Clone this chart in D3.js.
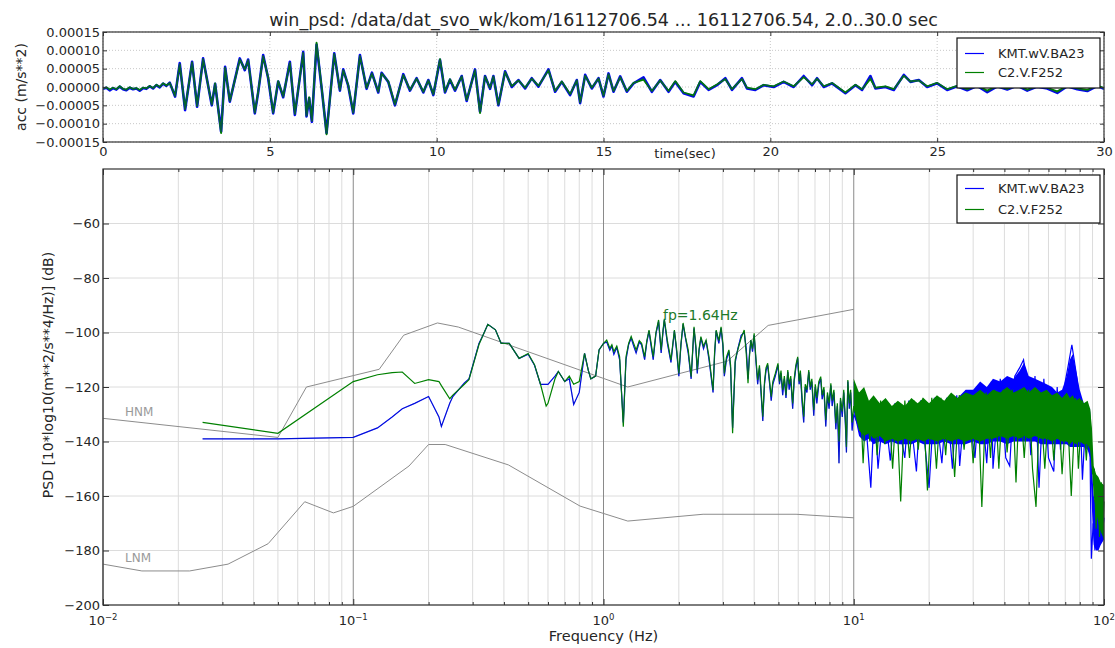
<!DOCTYPE html>
<html>
<head>
<meta charset="utf-8">
<script src="https://cdn.jsdelivr.net/npm/d3@7"></script>
<style>
  body { margin: 0; background: #fff; }
  svg { font-family: "DejaVu Sans", sans-serif; }
</style>
</head>
<body>
<svg id="chart" width="1115" height="648"></svg>
<script>
// ---------- data: acceleration waveform (units of 1e-5 m/s**2) ----------
const waveTime = [0, 0.1, 0.2, 0.3, 0.4, 0.5, 0.6, 0.7, 0.8, 0.9, 1.0, 1.1, 1.2, 1.3, 1.4, 1.5, 1.6, 1.7, 1.8, 1.9, 2.0,
  2.16, 2.3, 2.46, 2.67, 2.82, 3.0, 3.26, 3.36, 3.54, 3.66, 3.8,
  4.1, 4.25, 4.35, 4.55, 4.65, 4.8, 4.95, 5.1, 5.25, 5.4, 5.6, 5.75, 6.0, 6.1, 6.18, 6.26, 6.4, 6.56, 6.7, 6.93,
  7.1, 7.2, 7.35, 7.5, 7.7, 7.9, 8.06, 8.25, 8.35, 8.55, 8.75, 9.0, 9.2, 9.4, 9.6, 9.75, 9.9, 10.1, 10.25, 10.4,
  10.55, 10.75, 10.9, 11.15, 11.3, 11.45, 11.6, 11.7, 11.85, 12.05, 12.25, 12.45, 12.65, 12.85, 13.05, 13.35,
  13.55, 13.75, 14.0, 14.2, 14.3, 14.45, 14.65, 14.85, 15.0, 15.15, 15.3, 15.5, 15.7, 15.9, 16.2, 16.45, 16.7,
  16.95, 17.15, 17.4, 17.7, 17.9, 18.15, 18.4, 18.65, 18.85, 19.15, 19.3, 19.55, 19.8, 20.1, 20.4, 20.7, 21.0,
  21.25, 21.4, 21.6, 21.85, 22.25, 22.55, 22.75, 23.0, 23.15, 23.45, 23.7, 24.0, 24.2, 24.45, 24.7, 25.0, 25.3,
  25.6, 25.9, 26.2, 26.5, 26.8, 27.1, 27.4, 27.7, 28.0, 28.3, 28.6, 28.9, 29.2, 29.5, 29.8, 30];
const waveBlue = [-0.5, -0.2, -0.9, -0.3, -0.7, 0.1, -0.6, -0.9, -0.2, -0.6, -0.4, -1.0, -0.3, -0.5, 0.2, -0.4, 0.5, -0.1, 0.9, 0.3, 1.2,
  -2.6, 6.5, -6.3, 6.9, -5.4, 7.8, -5.0, 0.9, -12.2, 5.5, -4.0,
  7.8, 4.6, 7.5, -7.2, -1.5, 8.7, 2.4, -7.2, 1.5, -2.8, 6.9, -7.6, 9.6, -8.0, -3.0, -9.5, 11.6, -0.9, -12.6, 9.2,
  -1.0, 4.8, 0.3, -7.2, 8.7, -0.5, 3.9, -1.5, 3.9, 1.4, -5.0, 3.5, -1.0, 2.4, -1.5, 1.9, -2.2, 7.4, -1.5, 2.0,
  -1.0, 3.0, -3.8, 4.8, -6.8, 3.0, -0.5, 3.0, -5.0, 4.3, 0.0, 1.9, -0.4, 2.4, 0.1, 4.8,
  -1.3, 1.4, -2.2, 1.9, -4.4, 3.3, -0.4, 2.4, -2.6, 3.7, -1.3, 2.9, -1.3, 1.0, 2.6, -1.3, 1.9,
  -1.3, 1.4, -1.7, -2.6, 1.4, -0.8, 0.5, 2.4, -0.8, 2.4, -0.4, -0.8, 0.5, 0.0, 1.4, 0.0, 3.0,
  0.5, 2.4, 0.0, 1.0, -1.7, 0.5, -0.8, 3.0, -0.4, 0.0, -0.8, 3.3, 1.4, 1.9, 0.0, 1.0, -0.8,
  0.2, -0.9, 0.3, -1.4, 0.2, -0.7, 0.4, -1.0, 0.1, -0.4, -1.6, 0.2, -0.6, -1.1, 0.3, -0.5];
const waveGreen = [-0.4, -0.1, -0.7, -0.2, -0.6, 0.2, -0.5, -0.7, -0.1, -0.5, -0.3, -0.8, -0.2, -0.4, 0.3, -0.3, 0.6, 0.0, 1.0, 0.4, 1.1,
  -2.4, 6.2, -6.0, 6.7, -5.2, 7.6, -4.8, 1.0, -12.6, 5.3, -3.8,
  7.5, 4.8, 7.3, -7.0, -1.3, 8.4, 2.6, -7.0, 1.6, -2.6, 6.6, -7.3, 9.3, -7.8, -2.8, -9.2, 12.1, -0.7, -12.9, 9.0,
  -0.8, 4.6, 0.5, -7.0, 8.5, -0.3, 3.7, -1.3, 3.7, 1.5, -4.8, 3.3, -0.8, 2.3, -1.3, 1.8, -2.0, 7.6, -1.3, 2.1,
  -0.8, 2.9, -3.6, 4.6, -7.1, 2.9, -0.3, 2.9, -4.8, 4.1, 0.2, 1.8, -0.2, 2.3, 0.3, 4.6,
  -1.1, 1.5, -2.0, 1.8, -4.2, 3.1, -0.2, 2.3, -2.4, 3.5, -1.1, 2.7, -1.1, 1.1, 2.0, -1.1, 1.8,
  -1.1, 1.6, -1.5, -2.3, 1.6, -0.6, 0.7, 2.2, -0.6, 2.2, -0.2, -0.6, 0.6, 0.2, 1.5, 0.2, 2.7,
  0.7, 2.3, 0.2, 1.1, -1.5, 0.6, -0.6, 2.2, -0.2, 0.2, -0.6, 3.1, 1.5, 1.8, 0.2, 1.1, -0.6,
  0.3, -0.6, 0.4, -1.0, 0.3, -0.5, 0.5, -0.7, 0.2, -0.2, -1.2, 0.3, -0.4, -0.8, 0.4, -0.3];
const timeTicks = [0, 5, 10, 15, 20, 25, 30];
const accTicks = [-15, -10, -5, 0, 5, 10, 15];

// ---------- data: PSD (dB) ----------
const lowFreq = [0.025, 0.05, 0.1, 0.125, 0.143, 0.157, 0.176, 0.2, 0.22, 0.225, 0.243, 0.25, 0.278, 0.29, 0.318,
  0.33, 0.345, 0.37, 0.39, 0.42, 0.46, 0.5, 0.53, 0.56, 0.59, 0.6, 0.64, 0.66, 0.7, 0.73, 0.76, 0.8, 0.84, 0.87,
  0.89, 0.93, 0.96];
const greenLow = [-133, -137, -118, -115.5, -114.7, -114.5, -118.7, -117.3, -118, -119.5, -124.3, -123, -119, -117.3,
  -104.4, -101, -97, -99, -104, -104, -109.5, -107.7, -111.8, -119, -127, -126, -117, -114.3, -118, -116, -119,
  -118, -107.7, -114, -117, -116, -106.4];
const blueLow = [-139, -139, -138.5, -135, -131, -128, -126, -123.5, -131, -134.5, -126, -123.5, -118.5, -117,
  -104, -101, -97, -99, -104, -104, -109.5, -108, -112, -119, -119, -119, -116, -114.3, -118, -117, -126.4,
  -122, -107.7, -114, -117, -116, -106.4];

const midFreq = [1.00, 1.03, 1.06, 1.08, 1.10, 1.13, 1.16, 1.20, 1.23, 1.26,
  1.29, 1.32, 1.35, 1.39, 1.42, 1.46, 1.49, 1.52, 1.55, 1.58,
  1.62, 1.66, 1.70, 1.73, 1.75, 1.80, 1.86, 1.92, 1.96, 2.00,
  2.04, 2.08, 2.13, 2.18, 2.24, 2.30, 2.34, 2.37, 2.41, 2.45,
  2.51, 2.57, 2.64, 2.74, 2.78, 2.82, 2.89, 2.95, 3.00, 3.04,
  3.10, 3.17, 3.22, 3.28, 3.36, 3.44, 3.55, 3.65, 3.72, 3.78,
  3.83, 3.88, 3.94, 4.00, 4.07, 4.13, 4.20, 4.33, 4.40, 4.46,
  4.53, 4.60, 4.68, 4.75, 4.86, 4.98, 5.05, 5.12, 5.20, 5.28,
  5.36, 5.45, 5.52, 5.60, 5.70, 5.78, 5.87, 5.97, 6.05, 6.12,
  6.22, 6.31, 6.40, 6.50, 6.61, 6.70, 6.80, 6.92, 7.02, 7.12,
  7.25, 7.38, 7.48, 7.60, 7.73, 7.85, 7.97, 8.10, 8.20, 8.33,
  8.48, 8.60, 8.73, 8.85, 9.00, 9.12, 9.25, 9.35, 9.47, 9.60,
  9.72, 9.85];
const greenMid = [-104, -102.8, -105.8, -104.5, -107, -105, -108.9, -134.6, -108.9, -104,
  -101.5, -104, -106.4, -103, -104, -108.9, -103, -99.1, -104, -108.9,
  -100, -95.4, -106.4, -99, -95, -103, -110.1, -99.1, -106, -115,
  -104, -96.5, -102, -106.4, -116.2, -97.9, -105, -113.8, -106, -101.5,
  -105, -102.8, -108.9, -121.1, -107, -99.1, -103, -97.9, -104, -115,
  -109, -106.4, -112, -137, -110, -106.4, -102, -99.1, -108, -118.6,
  -109, -102.8, -106, -100.3, -110, -117.4, -112, -130.9, -118, -113,
  -111.3, -117, -123.6, -118, -115, -111.3, -118, -114, -121.1, -116,
  -123, -113.8, -119, -116, -126, -117, -112, -108.9, -118, -114,
  -124, -130.9, -119, -121, -113.8, -120, -117, -128.4, -119, -124,
  -118, -116.2, -123, -120, -132.1, -122, -126, -118.6, -125, -121,
  -133.3, -126, -140, -124, -129, -121, -131, -142, -117.4, -126,
  -121, -133];
const blueMid = [-104, -103.5, -106.5, -105, -108, -105.5, -110, -133, -110, -104.5,
  -102, -105, -107.5, -103.5, -104.5, -110, -103.5, -99.5, -105, -110,
  -100.5, -96, -107.5, -99.5, -95.5, -104, -111, -99.5, -107, -116,
  -104.5, -97, -102.5, -107.5, -117, -98.5, -106, -115, -106.5, -102,
  -106, -103, -110, -122, -108, -99.5, -104, -98.5, -105, -116,
  -110, -107, -113, -135, -111, -106, -101, -100, -106, -117,
  -108, -103, -107, -101, -111, -119, -113, -132.5, -119, -114,
  -112, -118, -125, -119, -116, -112, -119, -115, -123, -117,
  -124, -114.5, -121, -117, -128, -118, -113, -109.5, -119, -115,
  -126, -133, -120, -122, -114.5, -121, -118, -130.5, -120, -126,
  -119, -117, -124.5, -121, -134.5, -123, -128, -119.5, -127, -122,
  -135.5, -127, -148, -125, -131, -122, -133, -144, -118, -128,
  -122, -136];

const greenHiFreq = [10, 10.3, 10.6, 10.9, 11.2, 11.6, 12.0, 12.4, 12.8, 13.3, 13.8, 14.3, 14.8, 15.4, 16.0, 16.7,
  17.4, 18.1, 18.9, 19.7, 20.5, 21.4, 22.3, 23.3, 24.2, 25.3, 26.4, 27.6, 28.8, 30.0, 31.3, 32.5, 33.8, 35.2,
  36.6, 38.0, 39.5, 41.0, 43.0, 44.5, 46.0, 48.0, 50.0, 51.8, 53.5, 55.5, 58.0, 60.5, 63.0, 65.5, 68.0, 71.0,
  74.0, 77.0, 79.0, 82.0, 85.0, 87.5, 89.0, 90.0, 91.5, 93.0, 94.5, 96.0, 97.5, 99.0, 100];
const greenHi = [-127, -131, -122, -148, -125, -140, -126, -145, -125, -141, -126, -150, -126, -162, -125, -146,
  -125, -143, -124, -158, -124, -150, -124, -145, -124, -153, -123, -143, -123, -148, -122, -164, -122, -146,
  -121, -150, -121, -144, -121, -155, -121, -146, -121, -150, -164, -122, -150, -123, -147, -123, -152, -124,
  -160, -124, -150, -125, -147, -128, -140, -152, -150, -172, -154, -175, -155, -171, -162];
const blueHiFreq = [10, 10.5, 11.0, 11.7, 12.1, 12.5, 13.2, 14.0, 14.6, 16.0, 16.6, 17.8, 18.5, 20.0, 21.0, 22.5,
  23.5, 24.8, 25.8, 26.5, 28.0, 30.5, 32.0, 34.0, 35.5, 36.0, 38.5, 40.5, 42.0, 44.0, 46.0, 47.7, 49.0, 51.0,
  53.0, 55.0, 57.5, 60.0, 63.0, 65.0, 67.0, 70.0, 72.0, 74.4, 76.0, 78.0, 80.0, 82.0, 85.0, 87.5, 89.0, 90.5,
  92.0, 93.5, 95.0, 97.0, 99.0, 100];
const blueHi = [-130, -135, -125, -157, -126, -150, -126, -147, -126, -146, -125, -151, -125, -157, -124, -148,
  -124, -150, -123, -149, -122, -146, -120, -148, -118, -150, -117, -146, -149, -116, -113, -110, -118, -145,
  -116, -157, -117, -146, -151, -120, -143, -118, -112, -104.5, -110, -117, -126, -154, -127, -128, -183, -170,
  -180, -168, -176, -165, -172, -168];

// dense part of the spectrum, drawn as a filled band
const bandFreq = [10, 10.5, 11, 11.5, 12, 12.7, 13.4, 14.2, 15, 16, 17, 18, 19, 20, 21.5, 23, 24.5, 26, 28, 30,
  32, 34, 36, 38.5, 41, 43.5, 46, 48, 50, 53, 56, 59, 62, 65, 68, 71, 73, 75, 77, 80, 83, 86, 88, 89.5, 91, 93,
  95, 97, 100];
const greenBandTop = [-117, -122, -120, -125, -123, -126, -124, -127, -125, -127, -124, -126, -124, -126, -123,
  -125, -122, -124, -122, -123, -121, -123, -121, -122, -120, -122, -121, -120, -122, -120, -122, -121, -123,
  -122, -124, -122, -124, -123, -125, -124, -126, -125, -128, -135, -149, -152, -153, -155, -156];
const greenBandBot = [-128, -136, -138, -137, -139, -138, -140, -139, -140, -139, -140, -139, -140, -139, -140,
  -139, -140, -139, -140, -139, -140, -139, -139, -138, -139, -138, -139, -138, -139, -138, -139, -139, -140,
  -139, -140, -140, -141, -140, -141, -140, -141, -141, -143, -150, -160, -166, -170, -173, -176];
const blueBandTop = [-118, -124, -122, -127, -125, -128, -126, -128, -127, -128, -126, -127, -125, -127, -124,
  -126, -123, -124, -121, -121, -118, -120, -117, -118, -116, -117, -114, -111, -116, -117, -118, -119, -120,
  -122, -121, -116, -110, -108, -113, -121, -126, -126, -129, -150, -160, -163, -165, -166, -166];
const blueBandBot = [-129, -138, -140, -139, -141, -140, -141, -140, -141, -141, -141, -140, -141, -141, -141,
  -140, -141, -141, -141, -140, -141, -141, -140, -140, -141, -140, -140, -140, -140, -140, -141, -141, -141,
  -141, -141, -141, -142, -142, -142, -142, -142, -143, -146, -165, -178, -180, -180, -178, -176];

// Peterson noise models (acceleration)
const hnmFreq = [0.01, 0.05, 0.065, 0.127, 0.159, 0.217, 0.263, 1.25, 3.125, 4.55, 10];
const hnmDb = [-131.5, -138.5, -120, -113.5, -101, -96.5, -98, -120, -110.5, -97.4, -91.5];
const lnmFreq = [0.01, 0.0143, 0.0222, 0.0316, 0.0457, 0.064, 0.0833, 0.1, 0.167, 0.2, 0.233, 0.417, 0.806,
  1.25, 2.5, 5.88, 10];
const lnmDb = [-185, -187.5, -187.5, -185, -177.5, -162.1, -166.2, -163.8, -149, -141.1, -141.1, -148.6, -163.7,
  -169.2, -166.7, -166.7, -168];

const dbTicks = [-200, -180, -160, -140, -120, -100, -80, -60];
const decades = [0.01, 0.1, 1, 10, 100];
const decadeExp = ["\u22122", "\u22121", "0", "1", "2"];

const seriesNames = ["KMT.wV.BA23", "C2.V.F252"];
const seriesColors = ["#0000ff", "#008000"];
const titleText = "win_psd: /data/dat_svo_wk/kom/16112706.54 ... 16112706.54, 2.0..30.0 sec";

// ---------- layout ----------
const svg = d3.select("#chart");
const topBox = {left: 103, right: 1104, top: 32, bottom: 142};
const psdBox = {left: 103, right: 1104, top: 169, bottom: 605};
const frameColor = "#333";
const textColor = "#262626";

svg.append("rect").attr("width", 1115).attr("height", 648).attr("fill", "#fff");

svg.append("text")
  .attr("x", (topBox.left + topBox.right) / 2).attr("y", 26)
  .attr("text-anchor", "middle").attr("font-size", 17.5).attr("fill", textColor)
  .text(titleText);

const zip = (xs, ys) => xs.map((x, i) => [x, ys[i]]);

const styleAxis = (g) => {
  g.select(".domain").remove();
  g.selectAll("line").attr("stroke", frameColor);
  g.selectAll("text").attr("fill", textColor).attr("font-size", 13).attr("font-family", "DejaVu Sans, sans-serif");
};

const drawLegend = (x, y, w, h, rowGap) => {
  let lg = svg.append("g").attr("transform", "translate(" + x + "," + y + ")");
  lg.append("rect").attr("width", w).attr("height", h)
    .attr("fill", "#fff").attr("stroke", "#111").attr("stroke-width", 1.2);
  seriesNames.forEach((name, i) => {
    let yy = h / 2 - rowGap / 2 + i * rowGap;
    lg.append("line").attr("x1", 8).attr("x2", 27).attr("y1", yy).attr("y2", yy)
      .attr("stroke", seriesColors[i]).attr("stroke-width", 1.2);
    lg.append("text").attr("x", 41).attr("y", yy + 4.5).attr("font-size", 13).attr("fill", textColor).text(name);
  });
};

// ---------- top panel: waveform ----------
const tx = d3.scaleLinear().domain([0, 30]).range([topBox.left, topBox.right]);
const ty = d3.scaleLinear().domain([-15, 15]).range([topBox.bottom, topBox.top]);

let topGrid = svg.append("g");
timeTicks.forEach(t => {
  topGrid.append("line").attr("x1", tx(t)).attr("x2", tx(t)).attr("y1", topBox.top).attr("y2", topBox.bottom)
    .attr("stroke", "#c8c8c8").attr("stroke-dasharray", "1,2");
});
accTicks.forEach(v => {
  topGrid.append("line").attr("x1", topBox.left).attr("x2", topBox.right).attr("y1", ty(v)).attr("y2", ty(v))
    .attr("stroke", "#c8c8c8").attr("stroke-dasharray", "1,2");
});

const waveLine = d3.line().x(d => tx(d[0])).y(d => ty(d[1]));
svg.append("path").datum(zip(waveTime, waveBlue)).attr("d", waveLine)
  .attr("fill", "none").attr("stroke", seriesColors[0]).attr("stroke-width", 2.6).attr("stroke-linejoin", "round");
svg.append("path").datum(zip(waveTime, waveGreen)).attr("d", waveLine)
  .attr("fill", "none").attr("stroke", seriesColors[1]).attr("stroke-width", 1.8).attr("stroke-linejoin", "round");
svg.append("path").datum(zip(waveTime, waveBlue)).attr("d", waveLine)
  .attr("fill", "none").attr("stroke", "#0a3d6b").attr("stroke-width", 1).attr("stroke-opacity", 0.7);

const accFmt = v => (v === 0 ? "0.00000" : (v * 1e-5).toFixed(5).replace("-", "\u2212"));
svg.append("g").attr("transform", "translate(0," + topBox.bottom + ")")
  .call(d3.axisBottom(tx).tickValues(timeTicks).tickSize(-4).tickPadding(5).tickFormat(d3.format("d")))
  .call(styleAxis);
svg.append("g").attr("transform", "translate(0," + topBox.top + ")")
  .call(d3.axisTop(tx).tickValues(timeTicks).tickSize(-4).tickFormat(""))
  .call(styleAxis);
svg.append("g").attr("transform", "translate(" + topBox.left + ",0)")
  .call(d3.axisLeft(ty).tickValues(accTicks).tickSize(-4).tickPadding(3).tickFormat(accFmt))
  .call(styleAxis);
svg.append("g").attr("transform", "translate(" + topBox.right + ",0)")
  .call(d3.axisRight(ty).tickValues(accTicks).tickSize(-4).tickFormat(""))
  .call(styleAxis);

svg.append("rect").attr("x", topBox.left).attr("y", topBox.top)
  .attr("width", topBox.right - topBox.left).attr("height", topBox.bottom - topBox.top)
  .attr("fill", "none").attr("stroke", frameColor).attr("stroke-width", 1.2);

svg.append("text").attr("transform", "translate(26," + ((topBox.top + topBox.bottom) / 2) + ") rotate(-90)")
  .attr("text-anchor", "middle").attr("font-size", 14).attr("fill", textColor).text("acc (m/s**2)");
svg.append("text").attr("x", 685).attr("y", 158).attr("text-anchor", "middle")
  .attr("font-size", 13).attr("fill", textColor).text("time(sec)");

drawLegend(957, 38, 143, 50, 19);

// ---------- bottom panel: PSD ----------
const px = d3.scaleLog().domain([0.01, 100]).range([psdBox.left, psdBox.right]);
const py = d3.scaleLinear().domain([-200, -40]).range([psdBox.bottom, psdBox.top]);

let minorFreq = [];
decades.slice(0, 4).forEach(d => { for (let k = 2; k <= 9; k++) minorFreq.push(d * k); });

let psdGrid = svg.append("g");
minorFreq.forEach(f => {
  psdGrid.append("line").attr("x1", px(f)).attr("x2", px(f)).attr("y1", psdBox.top).attr("y2", psdBox.bottom)
    .attr("stroke", "#dcdcdc").attr("stroke-width", 1);
});
dbTicks.forEach(v => {
  psdGrid.append("line").attr("x1", psdBox.left).attr("x2", psdBox.right).attr("y1", py(v)).attr("y2", py(v))
    .attr("stroke", "#dcdcdc").attr("stroke-width", 1);
});
decades.forEach(f => {
  psdGrid.append("line").attr("x1", px(f)).attr("x2", px(f)).attr("y1", psdBox.top).attr("y2", psdBox.bottom)
    .attr("stroke", "#8a8a8a").attr("stroke-width", 1);
});

const psdLine = d3.line().x(d => px(d[0])).y(d => py(d[1]));
const psdBand = d3.area().x(d => px(d[0])).y0(d => py(d[1])).y1(d => py(d[2]));

// noise models
svg.append("path").datum(zip(hnmFreq, hnmDb)).attr("d", psdLine)
  .attr("fill", "none").attr("stroke", "#8c8c8c").attr("stroke-width", 1);
svg.append("path").datum(zip(lnmFreq, lnmDb)).attr("d", psdLine)
  .attr("fill", "none").attr("stroke", "#8c8c8c").attr("stroke-width", 1);
svg.append("text").attr("x", 125).attr("y", 416).attr("font-size", 12).attr("fill", "#9a9a9a").text("HNM");
svg.append("text").attr("x", 125).attr("y", 562).attr("font-size", 12).attr("fill", "#9a9a9a").text("LNM");

// blue series
svg.append("path").datum(bandFreq.map((f, i) => [f, blueBandBot[i], blueBandTop[i]])).attr("d", psdBand)
  .attr("fill", seriesColors[0]).attr("stroke", "none");
svg.append("path").datum(zip(lowFreq.concat(midFreq, blueHiFreq), blueLow.concat(blueMid, blueHi)))
  .attr("d", psdLine).attr("fill", "none").attr("stroke", seriesColors[0]).attr("stroke-width", 1.2);

// green series
svg.append("path").datum(bandFreq.map((f, i) => [f, greenBandBot[i], greenBandTop[i]])).attr("d", psdBand)
  .attr("fill", seriesColors[1]).attr("stroke", "none");
svg.append("path").datum(zip(lowFreq.concat(midFreq, greenHiFreq), greenLow.concat(greenMid, greenHi)))
  .attr("d", psdLine).attr("fill", "none").attr("stroke", seriesColors[1]).attr("stroke-width", 1.2);
svg.append("path").datum(zip(lowFreq.concat(midFreq), blueLow.concat(blueMid)))
  .attr("d", psdLine).attr("fill", "none").attr("stroke", "#0a3d6b").attr("stroke-width", 0.6).attr("stroke-opacity", 0.5);

svg.append("text").attr("x", 663).attr("y", 320).attr("font-size", 14).attr("fill", "#1d7a2a").text("fp=1.64Hz");

// axes
svg.append("g").attr("transform", "translate(0," + psdBox.bottom + ")")
  .call(d3.axisBottom(px).tickValues(decades).tickSize(-6).tickFormat(""))
  .call(styleAxis);
svg.append("g").attr("transform", "translate(0," + psdBox.bottom + ")")
  .call(d3.axisBottom(px).tickValues(minorFreq).tickSize(-3).tickFormat(""))
  .call(styleAxis);
svg.append("g").attr("transform", "translate(0," + psdBox.top + ")")
  .call(d3.axisTop(px).tickValues(decades).tickSize(-6).tickFormat(""))
  .call(styleAxis);
svg.append("g").attr("transform", "translate(0," + psdBox.top + ")")
  .call(d3.axisTop(px).tickValues(minorFreq).tickSize(-3).tickFormat(""))
  .call(styleAxis);
svg.append("g").attr("transform", "translate(" + psdBox.left + ",0)")
  .call(d3.axisLeft(py).tickValues(dbTicks).tickSize(-6).tickPadding(3).tickFormat(d => String(d).replace("-", "\u2212")))
  .call(styleAxis);
svg.append("g").attr("transform", "translate(" + psdBox.right + ",0)")
  .call(d3.axisRight(py).tickValues(dbTicks).tickSize(-6).tickFormat(""))
  .call(styleAxis);

let decLabels = svg.append("g");
decades.forEach((f, i) => {
  let t = decLabels.append("text").attr("x", px(f)).attr("y", 625)
    .attr("text-anchor", "middle").attr("font-size", 13).attr("fill", textColor);
  t.append("tspan").text("10");
  t.append("tspan").attr("dy", -5).attr("font-size", 8.5).text(decadeExp[i]);
});

svg.append("rect").attr("x", psdBox.left).attr("y", psdBox.top)
  .attr("width", psdBox.right - psdBox.left).attr("height", psdBox.bottom - psdBox.top)
  .attr("fill", "none").attr("stroke", frameColor).attr("stroke-width", 1.2);

svg.append("text").attr("x", (psdBox.left + psdBox.right) / 2).attr("y", 641)
  .attr("text-anchor", "middle").attr("font-size", 14.5).attr("fill", textColor).text("Frequency (Hz)");
svg.append("text").attr("transform", "translate(53,375) rotate(-90)")
  .attr("text-anchor", "middle").attr("font-size", 14).attr("fill", textColor)
  .text("PSD [10*log10(m**2/s**4/Hz)] (dB)");

drawLegend(957, 175, 143, 48, 21);
</script>
</body>
</html>
